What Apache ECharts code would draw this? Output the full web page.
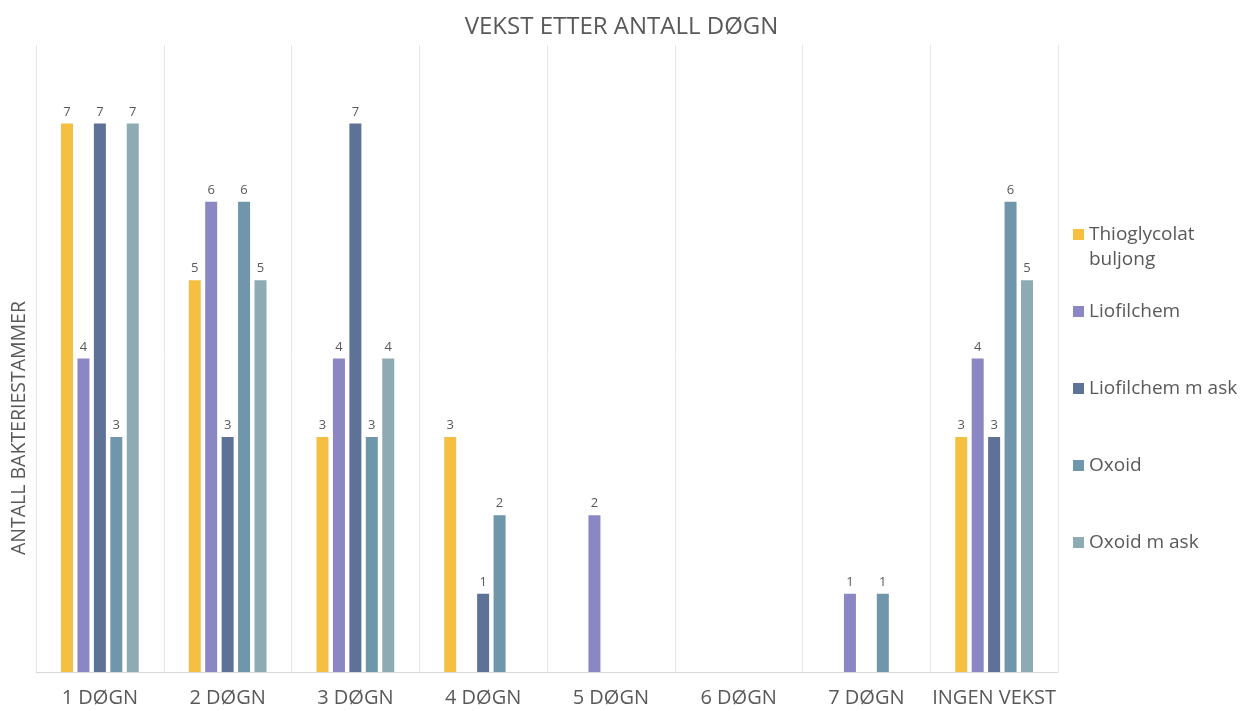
<!DOCTYPE html>
<html>
<head>
<meta charset="utf-8">
<script src="https://cdn.jsdelivr.net/npm/echarts@6/dist/echarts.min.js"></script>
<style>
  html, body { margin: 0; padding: 0; background: #fff; }
  #chart { width: 1243px; height: 711px; }
</style>
</head>
<body>
<div id="chart"></div>
<script>
// Growth of bacterial strains by number of days, per medium
const categories = ['1 DØGN', '2 DØGN', '3 DØGN', '4 DØGN', '5 DØGN', '6 DØGN', '7 DØGN', 'INGEN VEKST'];
const seriesNames = ['Thioglycolat buljong', 'Liofilchem', 'Liofilchem m ask', 'Oxoid', 'Oxoid m ask'];
const thioglycolat = [7, 5, 3, 3, 0, 0, 0, 3];
const liofilchem = [4, 6, 4, 0, 2, 0, 1, 4];
const liofilchemAsk = [7, 3, 7, 1, 0, 0, 0, 3];
const oxoid = [3, 6, 3, 2, 0, 0, 1, 6];
const oxoidAsk = [7, 5, 4, 0, 0, 0, 0, 5];
const seriesValues = [thioglycolat, liofilchem, liofilchemAsk, oxoid, oxoidAsk];
const colors = ['#F5BF42', '#8A87C4', '#5E7196', '#6F96AB', '#8EABB4'];

const textColor = '#595959';
const fontFamily = '"Open Sans", "Noto Sans", sans-serif';
const legendLeft = 1068;
const legendIcon = 11;

const legendBase = {
  orient: 'vertical',
  left: legendLeft,
  itemWidth: legendIcon,
  itemHeight: legendIcon,
  itemGap: 50,
  icon: 'rect',
  textStyle: { color: textColor, fontSize: 19, lineHeight: 27, fontFamily: fontFamily }
};

const chart = echarts.init(document.getElementById('chart'), null, { renderer: 'canvas' });

chart.setOption({
  animation: false,
  textStyle: { fontFamily: fontFamily },
  title: {
    text: 'VEKST ETTER ANTALL DØGN',
    left: 'center',
    top: 10,
    textStyle: { color: textColor, fontSize: 24, fontWeight: 'normal', fontFamily: fontFamily }
  },
  legend: [
    // first entry: the icon sits beside the first line of a two-line name
    Object.assign({}, legendBase, {
      top: 216,
      data: [seriesNames[0]],
      formatter: function () { return 'Thioglycolat'; }
    }),
    Object.assign({}, legendBase, {
      top: 293,
      data: seriesNames.slice(1)
    })
  ],
  grid: { left: 36, right: 185, top: 45, bottom: 39, containLabel: false },
  xAxis: {
    type: 'category',
    data: categories,
    axisLine: { show: true, lineStyle: { color: '#D9D9D9', width: 1 } },
    axisTick: { show: false },
    splitLine: { show: true, interval: 0, lineStyle: { color: '#E6E6E6', width: 1 } },
    axisLabel: { interval: 0, color: textColor, fontSize: 20, margin: 16, fontFamily: fontFamily }
  },
  yAxis: {
    type: 'value',
    min: 0,
    max: 8,
    interval: 1,
    axisLine: { show: false },
    axisTick: { show: false },
    axisLabel: { show: false },
    splitLine: { show: false }
  },
  graphic: [{
    type: 'text',
    x: 19,
    y: 428,
    rotation: Math.PI / 2,
    style: {
      text: 'ANTALL BAKTERIESTAMMER',
      fill: textColor,
      fontSize: 19.5,
      fontFamily: fontFamily,
      align: 'center',
      verticalAlign: 'middle'
    }
  }, {
    type: 'text',
    x: legendLeft + legendIcon + 10,
    y: 260,
    style: {
      text: 'buljong',
      fill: textColor,
      fontSize: 19,
      fontFamily: fontFamily,
      align: 'left',
      verticalAlign: 'middle'
    }
  }],
  series: seriesNames.map(function (name, i) {
    return {
      name: name,
      type: 'bar',
      data: seriesValues[i],
      barWidth: 12,
      barGap: '37%',
      itemStyle: { color: colors[i] },
      label: {
        show: true,
        position: 'top',
        distance: 5,
        color: textColor,
        fontSize: 13,
        fontFamily: fontFamily,
        formatter: function (p) { return p.value === 0 ? '' : String(p.value); }
      }
    };
  })
});
</script>
</body>
</html>
